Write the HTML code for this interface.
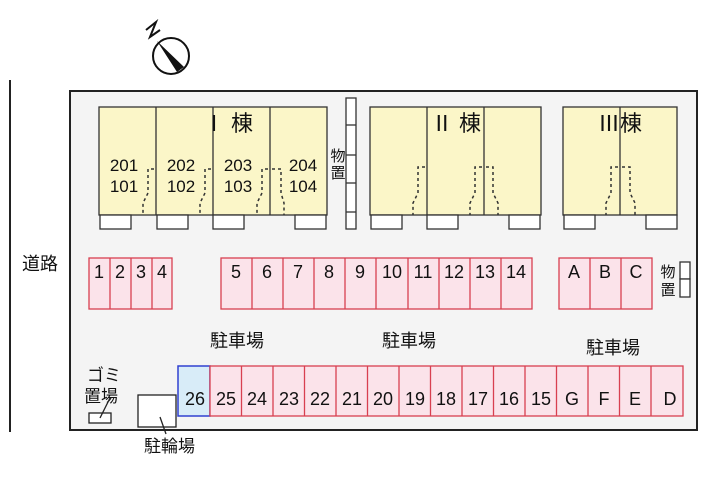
<!DOCTYPE html>
<html><head><meta charset="utf-8"><style>
body{margin:0;background:#fff;}
svg{display:block;font-family:"Liberation Sans","Noto Sans CJK JP",sans-serif;}
</style></head><body>
<svg width="720" height="480" viewBox="0 0 720 480" xmlns="http://www.w3.org/2000/svg">
<rect x="0" y="0" width="720" height="480" fill="#fff"/>
<line x1="10" y1="80" x2="10" y2="432" stroke="#222" stroke-width="2"/>
<text x="40" y="270" font-size="18" text-anchor="middle" fill="#111">道路</text>
<!-- compass -->
<g stroke="#111" stroke-width="2" fill="none">
<circle cx="171" cy="56" r="18"/>
<path d="M146 30 L156 22 L150 37 L160 30"/>
</g>
<path d="M157 41 L184 67 L177 72 Z" fill="#111"/>
<!-- outer lot -->
<rect x="70" y="91" width="627" height="339" fill="#f4f4f4" stroke="#222" stroke-width="2"/>
<g stroke="#333" stroke-width="1.3">
<rect x="99" y="107" width="228" height="108" fill="#fbf6c8"/>
<line x1="156" y1="107" x2="156" y2="215"/><line x1="213" y1="107" x2="213" y2="215"/><line x1="270" y1="107" x2="270" y2="215"/>
<g fill="#fff"><rect x="100" y="215" width="31" height="14"/><rect x="157" y="215" width="31" height="14"/><rect x="213" y="215" width="31" height="14"/><rect x="295" y="215" width="31" height="14"/></g>
<rect x="370" y="107" width="171" height="108" fill="#fbf6c8"/>
<line x1="427" y1="107" x2="427" y2="215"/><line x1="484" y1="107" x2="484" y2="215"/>
<g fill="#fff"><rect x="371" y="215" width="31" height="14"/><rect x="427" y="215" width="31" height="14"/><rect x="509" y="215" width="31" height="14"/></g>
<rect x="563" y="107" width="114" height="108" fill="#fbf6c8"/>
<line x1="620" y1="107" x2="620" y2="215"/>
<g fill="#fff"><rect x="564" y="215" width="31" height="14"/><rect x="646" y="215" width="31" height="14"/></g>
<rect x="346" y="98" width="10" height="131" fill="#fff"/>
<line x1="346" y1="125" x2="356" y2="125"/><line x1="346" y1="155" x2="356" y2="155"/><line x1="346" y1="183" x2="356" y2="183"/><line x1="346" y1="212" x2="356" y2="212"/>
<rect x="680" y="262" width="10" height="17" fill="#fff"/><rect x="680" y="279" width="10" height="18" fill="#fff"/>
</g>
<g stroke="#333" stroke-width="1.5" fill="none" stroke-dasharray="3,3">
<path d="M154 169 L148 169 L148 193 L143 203 L143 215"/>
<path d="M211 169 L205 169 L205 193 L200 203 L200 215"/>
<path d="M268 169 L262 169 L262 193 L257 203 L257 215"/>
<path d="M272 169 L281 169 L281 193 L284 203 L284 215"/>
<path d="M425 167 L418 167 L418 193 L413 203 L413 215"/>
<path d="M482 167 L475 167 L475 193 L470 203 L470 215"/>
<path d="M486 167 L493 167 L493 193 L498 203 L498 215"/>
<path d="M618 167 L611 167 L611 193 L606 203 L606 215"/>
<path d="M622 167 L630 167 L630 193 L635 203 L635 215"/>
</g>
<g font-size="22" fill="#111" text-anchor="middle">
<text x="228" y="131">Ⅰ 棟</text>
<text x="456" y="131">Ⅱ 棟</text>
<text x="620" y="131">Ⅲ棟</text>
</g>
<g font-size="17" fill="#111" text-anchor="middle">
<text x="124" y="171">201</text><text x="124" y="192">101</text>
<text x="181" y="171">202</text><text x="181" y="192">102</text>
<text x="238" y="171">203</text><text x="238" y="192">103</text>
<text x="303" y="171">204</text><text x="303" y="192">104</text>
</g>
<g font-size="15" fill="#111" text-anchor="middle">
<text x="338" y="161">物</text><text x="338" y="178">置</text>
<text x="668" y="277">物</text><text x="668" y="295">置</text>
</g>
<g stroke="#d84050" stroke-width="1.3" fill="#fbe3ea">
<rect x="89" y="258" width="83" height="51"/>
<line x1="110" y1="258" x2="110" y2="309"/><line x1="131" y1="258" x2="131" y2="309"/><line x1="152" y1="258" x2="152" y2="309"/>
<rect x="221" y="258" width="311" height="51"/>
<line x1="252" y1="258" x2="252" y2="309"/><line x1="283" y1="258" x2="283" y2="309"/><line x1="314" y1="258" x2="314" y2="309"/><line x1="345" y1="258" x2="345" y2="309"/><line x1="376" y1="258" x2="376" y2="309"/><line x1="408" y1="258" x2="408" y2="309"/><line x1="439" y1="258" x2="439" y2="309"/><line x1="470" y1="258" x2="470" y2="309"/><line x1="501" y1="258" x2="501" y2="309"/>
<rect x="559" y="258" width="93" height="51"/>
<line x1="590" y1="258" x2="590" y2="309"/><line x1="621" y1="258" x2="621" y2="309"/>
</g>
<g font-size="18" fill="#111" text-anchor="middle">
<text x="99" y="278">1</text><text x="120" y="278">2</text><text x="141" y="278">3</text><text x="162" y="278">4</text>
<text x="236" y="278">5</text><text x="267" y="278">6</text><text x="298" y="278">7</text><text x="329" y="278">8</text><text x="360" y="278">9</text><text x="392" y="278">10</text><text x="423" y="278">11</text><text x="454" y="278">12</text><text x="485" y="278">13</text><text x="516" y="278">14</text>
<text x="574" y="278">A</text><text x="605" y="278">B</text><text x="636" y="278">C</text>
</g>
<g font-size="18" fill="#111" text-anchor="middle">
<text x="237" y="347">駐車場</text><text x="409" y="347">駐車場</text><text x="613" y="354">駐車場</text>
</g>
<rect x="178" y="366" width="32" height="50" fill="#d8ecf8" stroke="#3040d0" stroke-width="1.5"/>
<g stroke="#d84050" stroke-width="1.3" fill="#fbe3ea">
<rect x="210" y="366" width="473" height="50"/>
<line x1="241.5" y1="366" x2="241.5" y2="416"/><line x1="273" y1="366" x2="273" y2="416"/><line x1="304.5" y1="366" x2="304.5" y2="416"/><line x1="336" y1="366" x2="336" y2="416"/><line x1="367.5" y1="366" x2="367.5" y2="416"/><line x1="399" y1="366" x2="399" y2="416"/><line x1="430.5" y1="366" x2="430.5" y2="416"/><line x1="462" y1="366" x2="462" y2="416"/><line x1="493.5" y1="366" x2="493.5" y2="416"/><line x1="525" y1="366" x2="525" y2="416"/><line x1="556.5" y1="366" x2="556.5" y2="416"/><line x1="588" y1="366" x2="588" y2="416"/><line x1="619.5" y1="366" x2="619.5" y2="416"/><line x1="651" y1="366" x2="651" y2="416"/>
</g>
<g font-size="18" fill="#111" text-anchor="middle">
<text x="195" y="405">26</text><text x="226" y="405">25</text><text x="257" y="405">24</text><text x="289" y="405">23</text><text x="320" y="405">22</text><text x="352" y="405">21</text><text x="383" y="405">20</text><text x="415" y="405">19</text><text x="446" y="405">18</text><text x="478" y="405">17</text><text x="509" y="405">16</text><text x="541" y="405">15</text><text x="572" y="405">G</text><text x="604" y="405">F</text><text x="635" y="405">E</text><text x="670" y="405">D</text>
</g>
<g font-size="17" fill="#111">
<text x="87" y="381">ゴミ</text><text x="84" y="402">置場</text>
<text x="144" y="452">駐輪場</text>
</g>
<g stroke="#222" stroke-width="1.3" fill="#fff">
<rect x="89" y="413" width="22" height="10"/>
<rect x="138" y="395" width="38" height="32"/>
</g>
<g stroke="#222" stroke-width="1.3">
<line x1="100" y1="418" x2="110" y2="398"/>
<line x1="160" y1="417" x2="166" y2="434"/>
</g>
</svg>
</body></html>
